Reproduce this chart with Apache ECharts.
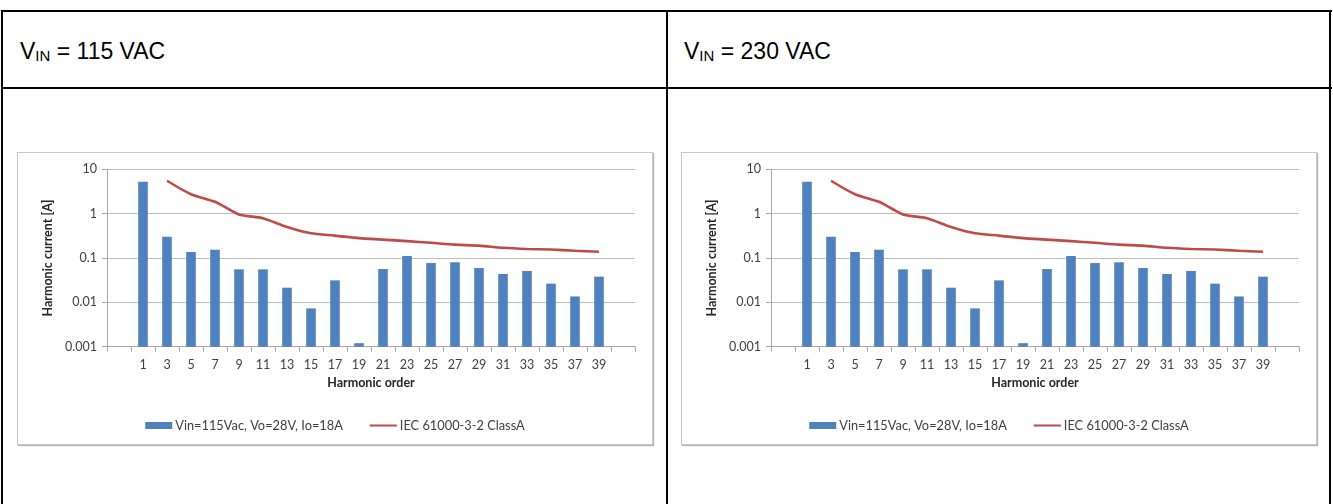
<!DOCTYPE html>
<html><head><meta charset="utf-8">
<script src="https://cdn.jsdelivr.net/npm/echarts@6/dist/echarts.min.js"></script>
<style>
html,body{margin:0;padding:0;background:#fff;}
body{width:1333px;height:504px;overflow:hidden;position:relative;font-family:"Liberation Sans",Arial,sans-serif;}
.ln{position:absolute;background:#000;}
.hdr{position:absolute;font-size:23px;line-height:23px;color:#000;white-space:nowrap;}
.hdr .sub{font-size:15px;position:relative;top:2px;}
.frame{position:absolute;border:1px solid #c9c9c9;box-shadow:1px 1px 1px #b4b4b4;background:#fff;width:634px;height:291px;}
.chart{width:634px;height:291px;}
</style>
</head><body>
<div class="ln" style="left:1px;top:10px;width:1331px;height:2px"></div>
<div class="ln" style="left:1px;top:87px;width:1331px;height:2px"></div>
<div class="ln" style="left:1px;top:10px;width:2px;height:494px"></div>
<div class="ln" style="left:666px;top:10px;width:2px;height:494px"></div>
<div class="ln" style="left:1329px;top:10px;width:2px;height:494px"></div>
<div class="hdr" style="left:20px;top:40px">V<span class="sub">IN</span> = 115 VAC</div>
<div class="hdr" style="left:684px;top:40px">V<span class="sub">IN</span> = 230 VAC</div>
<div class="frame" style="left:17px;top:152px"><div id="c1" class="chart"></div></div>
<div class="frame" style="left:681px;top:152px"><div id="c2" class="chart"></div></div>
<script>
const harmonicOrders = ['1','3','5','7','9','11','13','15','17','19','21','23','25','27','29','31','33','35','37','39'];
const measuredCurrent = [5.25, 0.30, 0.136, 0.154, 0.0555, 0.0555, 0.0214, 0.0073, 0.0313, 0.0012, 0.0565, 0.111, 0.077, 0.080, 0.0594, 0.0436, 0.0509, 0.0264, 0.0136, 0.038];
const iecLimit = [null, 5.52, 2.74, 1.85, 0.96, 0.79, 0.50, 0.36, 0.32, 0.28, 0.26, 0.24, 0.22, 0.20, 0.19, 0.17, 0.16, 0.155, 0.146, 0.138];
const yTickLabels = ['0.001','0.01','0.1','1','10'];
const barName = 'Vin=115Vac, Vo=28V, Io=18A';
const lineName = 'IEC 61000-3-2 ClassA';

const cats = [''].concat(harmonicOrders, ['']);
const barData = ['-'].concat(measuredCurrent, ['-']);
const lineData = ['-'].concat(iecLimit.map(v => v == null ? '-' : v), ['-']);
const FONT = 'Lato, "Open Sans", sans-serif';

function makeOption() {
  return {
    animation: false,
    textStyle: {fontFamily: FONT},
    grid: {left: 89, right: 17, top: 16.3, bottom: 97.3, containLabel: false},
    legend: {
      top: 261, left: 'center', itemWidth: 27, itemHeight: 7, itemGap: 26,
      textStyle: {fontFamily: FONT, fontSize: 12.8, color: '#404040', padding: [0,0,0,-2]},
      data: [
        {name: barName, icon: 'rect'},
        {name: lineName, itemStyle: {color: 'rgba(0,0,0,0)', borderWidth: 0}}
      ]
    },
    xAxis: {
      type: 'category', data: cats, boundaryGap: true,
      name: 'Harmonic order', nameLocation: 'middle', nameGap: 30,
      nameTextStyle: {fontFamily: FONT, fontSize: 12.5, fontWeight: 'bold', color: '#262626'},
      axisLine: {lineStyle: {color: '#a6a6a6', width: 1}},
      axisTick: {show: true, interval: 0, length: 5, lineStyle: {color: '#a6a6a6'}},
      axisLabel: {interval: 0, margin: 12, fontFamily: FONT, fontSize: 12.5, color: '#404040'},
      splitLine: {show: false}
    },
    yAxis: {
      type: 'log', logBase: 10, min: 0.001, max: 10, startValue: 0.001,
      name: 'Harmonic current [A]', nameLocation: 'middle', nameGap: 53, nameRotate: 90,
      nameTextStyle: {fontFamily: FONT, fontSize: 12.5, fontWeight: 'bold', color: '#262626'},
      axisLine: {show: true, lineStyle: {color: '#a6a6a6', width: 1}},
      axisTick: {show: true, length: 5, lineStyle: {color: '#a6a6a6'}},
      axisLabel: {margin: 10, fontFamily: FONT, fontSize: 12.5, color: '#404040',
        formatter: v => { const e = Math.round(Math.log10(v)) + 3; return yTickLabels[e] !== undefined ? yTickLabels[e] : ''; }},
      splitLine: {show: true, lineStyle: {color: '#bfbfbf', width: 1}}
    },
    series: [
      {name: barName, type: 'bar', data: barData, barWidth: '40%', itemStyle: {color: '#4f81bd'}},
      {name: lineName, type: 'line', data: lineData, symbol: 'none', smooth: 0.25,
       lineStyle: {color: '#be4b48', width: 2.6}, itemStyle: {color: '#be4b48'}}
    ]
  };
}
echarts.init(document.getElementById('c1')).setOption(makeOption());
echarts.init(document.getElementById('c2')).setOption(makeOption());
</script>
</body></html>
